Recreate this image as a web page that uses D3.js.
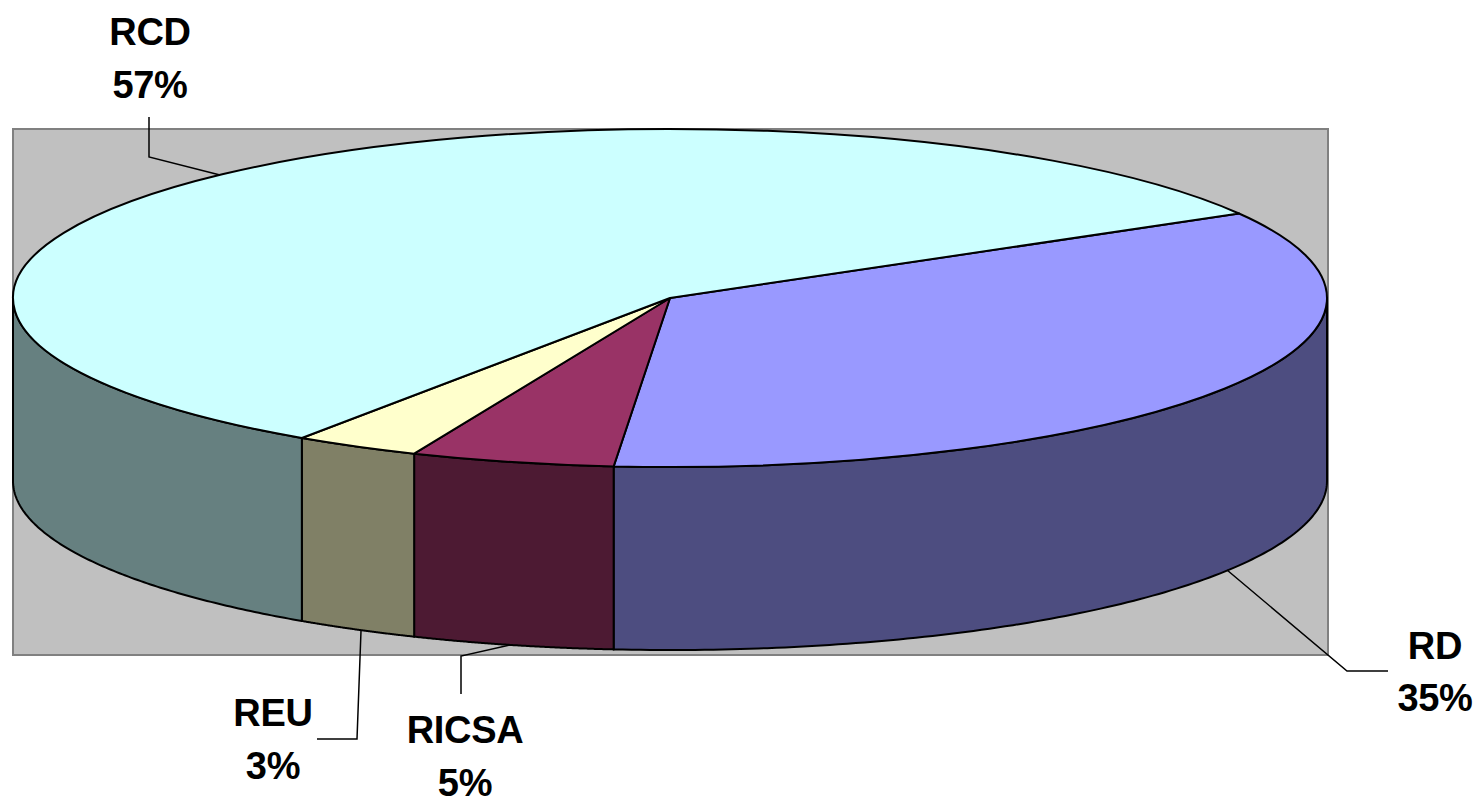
<!DOCTYPE html>
<html>
<head>
<meta charset="utf-8">
<script src="https://cdn.jsdelivr.net/npm/d3@7"></script>
<style>
body { margin: 0; background: #fff; }
text { font-family: "Liberation Sans", Arial, sans-serif; font-weight: bold; font-size: 38px; letter-spacing: -0.3px; fill: #000; text-anchor: middle; }
</style>
</head>
<body>
<div id="chart"></div>
<script>
// slices, clockwise from the RD edge
var categories = ["RD", "RICSA", "REU", "RCD"];
var shares = [34.7, 5.0, 3.1, 57.2];
var topColors = ["#9999FF", "#993366", "#FFFFCC", "#CCFFFF"];
var sideColors = ["#4D4D80", "#4D1A33", "#808066", "#668080"];

var width = 1481, height = 801;
var plot = {left: 13, right: 1328, top: 129, bottom: 655};
var center = {x: 670, y: 298};
var rx = 657, ry = 169, depth = 183;
var startAngle = 60 * Math.PI / 180;

// label position and leader line for each slice
var labelLayout = {
    RD:    {x: 1435, y1: 659, y2: 711, leader: [[1227, 570], [1347, 671], [1388, 671]]},
    RICSA: {x: 465, y1: 743, y2: 796, leader: [[510, 645], [461, 656], [461, 694]]},
    REU:   {x: 273, y1: 726, y2: 779, leader: [[361, 631], [357, 739], [317, 739]]},
    RCD:   {x: 150, y1: 45, y2: 98, leader: [[220, 175], [149, 157], [149, 117]]}
};

var x = d3.scaleLinear().domain([-1, 1]).range([center.x - rx, center.x + rx]);
var y = d3.scaleLinear().domain([-1, 1]).range([center.y - ry, center.y + ry]);

var svg = d3.select("#chart")
    .append("svg")
    .attr("width", width)
    .attr("height", height)
    .style("display", "block");

svg.append("rect")
    .attr("x", plot.left)
    .attr("y", plot.top)
    .attr("width", plot.right - plot.left)
    .attr("height", plot.bottom - plot.top)
    .attr("fill", "#C0C0C0")
    .attr("stroke", "#808080")
    .attr("stroke-width", 2);

var pie = d3.pie().sort(null).startAngle(startAngle).endAngle(startAngle + 2 * Math.PI);
var slices = pie(shares);
slices.forEach(function(d, i) { d.name = categories[i]; });

var line = d3.line();
function rim(a, drop) {
    return [x(Math.sin(a)), y(-Math.cos(a)) + drop];
}

// outer wall, only the part of each slice that faces the viewer
function wallPath(d) {
    var a0 = Math.max(d.startAngle, Math.PI / 2);
    var a1 = Math.min(d.endAngle, 3 * Math.PI / 2);
    if (a1 <= a0) return null;
    var angles = d3.range(0, 121).map(function(k) { return a0 + (a1 - a0) * k / 120; });
    var upper = angles.map(function(a) { return rim(a, 0); });
    var lower = angles.slice().reverse().map(function(a) { return rim(a, depth); });
    return line(upper.concat(lower)) + "Z";
}

svg.append("g").attr("class", "walls")
    .selectAll("path")
    .data(slices)
    .join("path")
    .attr("d", wallPath)
    .attr("fill", function(d, i) { return sideColors[i]; })
    .attr("stroke", "#000")
    .attr("stroke-width", 2)
    .attr("stroke-linejoin", "round");

// top face: an ordinary arc squashed into an ellipse
var arc = d3.arc().innerRadius(0).outerRadius(100);
svg.append("g").attr("class", "top")
    .attr("transform", "translate(" + center.x + "," + center.y + ") scale(" + rx / 100 + "," + ry / 100 + ")")
    .selectAll("path")
    .data(slices)
    .join("path")
    .attr("d", arc)
    .attr("fill", function(d, i) { return topColors[i]; })
    .attr("stroke", "#000")
    .attr("stroke-width", 2)
    .attr("stroke-linejoin", "round")
    .attr("vector-effect", "non-scaling-stroke");

var labels = svg.append("g").attr("class", "labels")
    .selectAll("g")
    .data(slices)
    .join("g");

labels.append("path")
    .attr("d", function(d) { return line(labelLayout[d.name].leader); })
    .attr("fill", "none")
    .attr("stroke", "#000")
    .attr("stroke-width", 1.5);

labels.append("text")
    .attr("x", function(d) { return labelLayout[d.name].x; })
    .attr("y", function(d) { return labelLayout[d.name].y1; })
    .text(function(d) { return d.name; });

labels.append("text")
    .attr("x", function(d) { return labelLayout[d.name].x; })
    .attr("y", function(d) { return labelLayout[d.name].y2; })
    .text(function(d) { return d3.format(".0f")(d.data) + "%"; });
</script>
</body>
</html>
